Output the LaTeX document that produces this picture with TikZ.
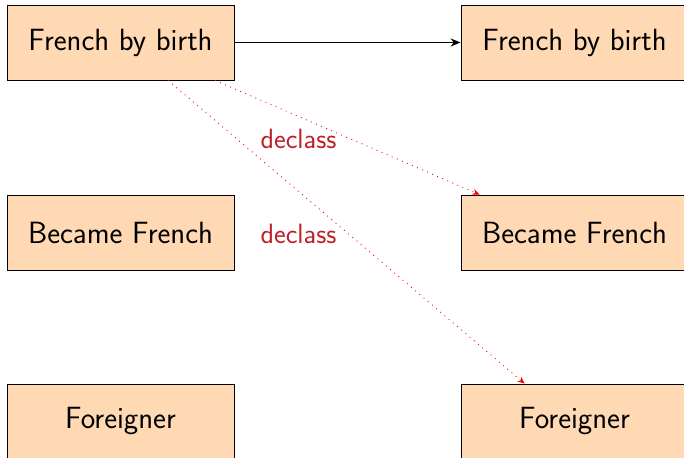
\documentclass[tikz,border=0pt]{standalone}
\usetikzlibrary{arrows.meta,shadows}
\definecolor{boxfill}{RGB}{255,217,179}
\definecolor{declred}{RGB}{190,30,40}
\begin{document}
\begin{tikzpicture}[x=1pt,y=-1pt,
  statebox/.style={draw=black,line width=0.8pt,fill=boxfill,minimum width=227pt,minimum height=75pt,
    inner sep=0pt,font=\sffamily\fontsize{30.7}{36}\selectfont,
    drop shadow={shadow xshift=1.2pt,shadow yshift=-1.2pt,fill=black!60,opacity=1}},
  solidarrow/.style={draw=black,line width=1.4pt,-{Stealth[length=10pt,width=8pt]}},
  dotarrow/.style={draw=red,line width=0.9pt,dash pattern=on 0.9pt off 4.6pt,-{Stealth[length=7pt,width=6pt]}},
  lbl/.style={text=declred,font=\sffamily\fontsize{27.9}{32}\selectfont,inner sep=0pt}]
\useasboundingbox (0,0) rectangle (684,457);
\node[statebox] (fbl) at (120.5,42.5) {French by birth};
\node[statebox] (fbr) at (574.5,42.5) {French by birth};
\node[statebox] (bfl) at (120.5,232.5) {Became French};
\node[statebox] (bfr) at (574.5,232.5) {Became French};
\node[statebox] (fgl) at (120.5,421.5) {Foreigner};
\node[statebox] (fgr) at (574.5,421.5) {Foreigner};
\draw[solidarrow] (fbl.east) -- (fbr.west);
\draw[dotarrow] ([xshift=94.5pt]fbl.south) -- ([xshift=19pt]bfr.north west);
\draw[dotarrow] ([xshift=47.5pt]fbl.south) -- ([xshift=64pt]fgr.north west);
\node[lbl] (d1) at (298.5,139) {declass};
\node[lbl] (d2) at (298.5,234) {declass};
\end{tikzpicture}
\end{document}
